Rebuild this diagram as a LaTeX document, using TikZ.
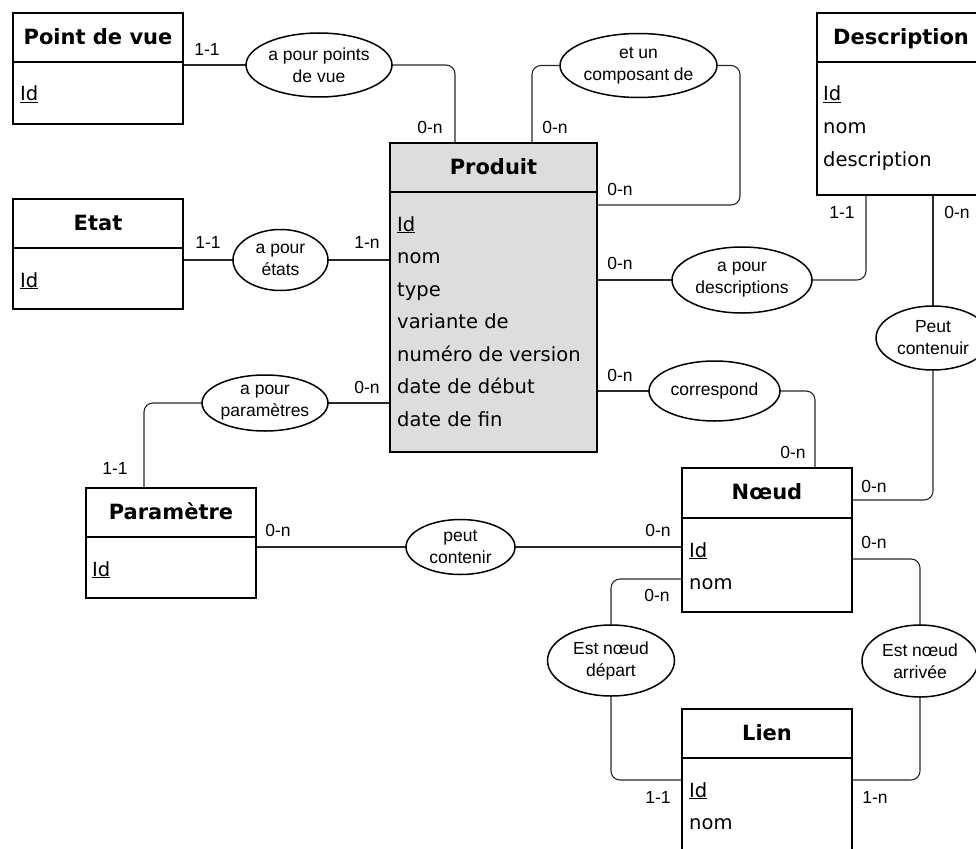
\documentclass[tikz,border=0pt]{standalone}
\usepackage{fontspec}
\usetikzlibrary{shapes.geometric,calc}
\newfontfamily\verd{DejaVu Sans}
\newfontfamily\arialf{Liberation Sans}
\newcommand\attrfont{\verd\fontsize{19.5}{23}\selectfont}
\newcommand\ttlfont{\verd\bfseries\fontsize{21}{25}\selectfont}
\newcommand\labfont{\arialf\fontsize{17.5}{22}\selectfont}
\definecolor{prodgray}{RGB}{221,221,221}
\definecolor{linegray}{RGB}{40,40,40}
\pgfdeclarelayer{bg}
\pgfsetlayers{bg,main}
\tikzset{
  ent/.style={draw, line width=2.6pt, inner sep=0pt, outer sep=0pt, fill=white},
  rel/.style={ellipse, draw, line width=1.5pt, inner sep=0pt, outer sep=0pt, fill=white},
  conn/.style={line width=1.1pt, draw=linegray, rounded corners=9pt},
  divl/.style={line width=1.8pt},
  lab/.style={font=\labfont, align=center, inner sep=0pt},
  card/.style={font=\labfont, inner sep=0pt},
  ttl/.style={font=\ttlfont, anchor=base, inner sep=0pt},
  attr/.style={font=\attrfont, anchor=base west, inner sep=0pt},
}
\begin{document}
\begin{tikzpicture}[x=1pt,y=-1pt]
\useasboundingbox (0,0) rectangle (976,848);
\clip (0,0) rectangle (976,848);

% ---------- entities ----------
\node[ent, minimum width=170, minimum height=111] (pdv) at (98,68.5) {};
\draw[divl] (pdv.west |- 0,62) -- (pdv.east |- 0,62);
\node[ttl] at (98,45) {Point de vue};
\node[attr] at (20,101) {\underline{Id}};

\node[ent, minimum width=170, minimum height=110] (etat) at (98,254) {};
\draw[divl] (etat.west |- 0,248) -- (etat.east |- 0,248);
\node[ttl] at (98,230) {Etat};
\node[attr] at (20,287) {\underline{Id}};

\node[ent, fill=prodgray, minimum width=207, minimum height=309] (prod) at (493.5,297.5) {};
\draw[divl] (prod.west |- 0,192) -- (prod.east |- 0,192);
\node[ttl] at (493.5,174) {Produit};
\node[attr] at (397,231) {\underline{Id}};
\node[attr] at (397,263.5) {nom};
\node[attr] at (397,296) {type};
\node[attr] at (397,328.5) {variante de};
\node[attr] at (397,361) {numéro de version};
\node[attr] at (397,393.5) {date de début};
\node[attr] at (397,426) {date de fin};

\node[ent, minimum width=168, minimum height=182] (desc) at (901,104) {};
\draw[divl] (desc.west |- 0,62) -- (desc.east |- 0,62);
\node[ttl] at (901,45) {Description};
\node[attr] at (823,101) {\underline{Id}};
\node[attr] at (823,133.5) {nom};
\node[attr] at (823,166) {description};

\node[ent, minimum width=170, minimum height=110] (par) at (171,543) {};
\draw[divl] (par.west |- 0,537) -- (par.east |- 0,537);
\node[ttl] at (171,519) {Paramètre};
\node[attr] at (92,576) {\underline{Id}};

\node[ent, minimum width=170, minimum height=144] (noeud) at (767,540) {};
\draw[divl] (noeud.west |- 0,518) -- (noeud.east |- 0,518);
\node[ttl] at (767,499) {Nœud};
\node[attr] at (689,557) {\underline{Id}};
\node[attr] at (689,589.5) {nom};

\node[ent, minimum width=170, minimum height=162] (lien) at (767,790) {};
\draw[divl] (lien.west |- 0,758) -- (lien.east |- 0,758);
\node[ttl] at (767,740) {Lien};
\node[attr] at (689,797) {\underline{Id}};
\node[attr] at (689,829.5) {nom};

% ---------- relationships ----------
\node[rel, minimum width=146, minimum height=64] (rPdv) at (319,65) {};
\node[lab] at (rPdv) {a pour points\\de vue};
\node[rel, minimum width=157, minimum height=64] (rComp) at (638.5,65.5) {};
\node[lab] at (rComp) {et un\\composant de};
\node[rel, minimum width=95, minimum height=61] (rEtat) at (280.5,260) {};
\node[lab] at (rEtat) {a pour\\états};
\node[rel, minimum width=140, minimum height=66] (rDesc) at (742,280) {};
\node[lab] at (rDesc) {a pour\\descriptions};
\node[rel, minimum width=131, minimum height=60] (rCorr) at (714.5,391) {};
\node[lab] at (rCorr) {correspond};
\node[rel, minimum width=114, minimum height=64] (rPeut) at (933,338) {};
\node[lab] at (rPeut) {Peut\\contenuir};
\node[rel, minimum width=126, minimum height=56] (rPar) at (265,403) {};
\node[lab] at (rPar) {a pour\\paramètres};
\node[rel, minimum width=109, minimum height=55] (rPeutC) at (460.5,547) {};
\node[lab] at (rPeutC) {peut\\contenir};
\node[rel, minimum width=127, minimum height=71] (rDep) at (611,660.5) {};
\node[lab] at (rDep) {Est nœud\\départ};
\node[rel, minimum width=116, minimum height=72] (rArr) at (920,661) {};
\node[lab] at (rArr) {Est nœud\\arrivée};

% ---------- connectors ----------
\begin{pgfonlayer}{bg}
\draw[conn] (rPdv.west) -- (rPdv.west -| pdv.east);
\draw[conn] (rPdv.east) -| ($(prod.north west)+(65,0)$);
\draw[conn] (rComp.west) -| ($(prod.north west)+(142,0)$);
\draw[conn] (rComp.east) -| ($(prod.north east)+(143,62)$) -- ($(prod.north east)+(0,62)$);
\draw[conn] (rEtat.west) -- (rEtat.west -| etat.east);
\draw[conn] (rEtat.east) -- (rEtat.east -| prod.west);
\draw[conn] (rDesc.west) -- (rDesc.west -| prod.east);
\draw[conn] (rDesc.east) -| ($(desc.south west)+(49,0)$);
\draw[conn] ($(desc.south west)+(116,0)$) -- (rPeut.north);
\draw[conn] (rPeut.south) |- ($(noeud.north east)+(0,32)$);
\draw[conn] (rCorr.west) -- (rCorr.west -| prod.east);
\draw[conn] (rCorr.east) -| ($(noeud.north west)+(133,0)$);
\draw[conn] (rPar.east) -- (rPar.east -| prod.west);
\draw[conn] (rPar.west) -| ($(par.north west)+(58,0)$);
\draw[conn] (rPeutC.west) -- (rPeutC.west -| par.east);
\draw[conn] (rPeutC.east) -- (rPeutC.east -| noeud.west);
\draw[conn] ($(noeud.north west)+(0,111)$) -| (rDep.north);
\draw[conn] (rDep.south) |- ($(lien.north west)+(0,71)$);
\draw[conn] ($(noeud.north east)+(0,91)$) -| (rArr.north);
\draw[conn] (rArr.south) |- ($(lien.north east)+(0,71)$);
\end{pgfonlayer}

% ---------- cardinalities ----------
\node[card] (c1) at (207,49) {1-1};
\node[card] (c2) at (430,127) {0-n};
\node[card] (c3) at (555,127) {0-n};
\node[card] (c4) at (620,189) {0-n};
\node[card] (c5) at (208,242) {1-1};
\node[card] (c6) at (367,242) {1-n};
\node[card] (c7) at (620,263) {0-n};
\node[card] (c8) at (842,212) {1-1};
\node[card] (c9) at (957,212) {0-n};
\node[card] (c10) at (620,375) {0-n};
\node[card] (c11) at (793,452) {0-n};
\node[card] (c12) at (367,387) {0-n};
\node[card] (c13) at (115,468) {1-1};
\node[card] (c14) at (278,530) {0-n};
\node[card] (c15) at (874,486) {0-n};
\node[card] (c16) at (658,530) {0-n};
\node[card] (c17) at (874,542) {0-n};
\node[card] (c18) at (657,595) {0-n};
\node[card] (c19) at (658,797) {1-1};
\node[card] (c20) at (875,797) {1-n};
\end{tikzpicture}
\end{document}
